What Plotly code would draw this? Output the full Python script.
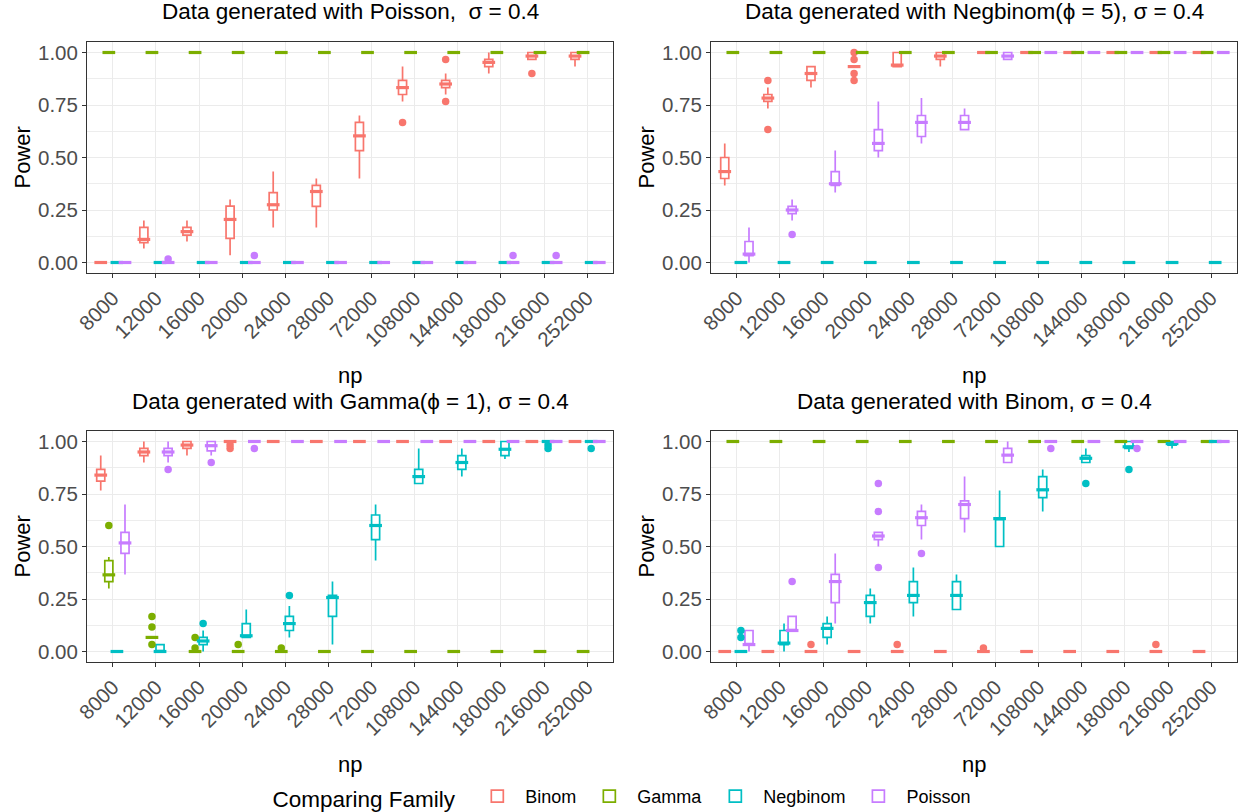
import plotly.graph_objects as go

# ---------------- data ----------------
CATS = ["8000", "12000", "16000", "20000", "24000", "28000",
        "72000", "108000", "144000", "180000", "216000", "252000"]
FAMILIES = ["Binom", "Gamma", "Negbinom", "Poisson"]
COLORS = ["#F8766D", "#7CAE00", "#00BFC4", "#C77CFF"]

# each box: (lower whisker, q1, median, q3, upper whisker)
Z = (0, 0, 0, 0, 0)
O = (1, 1, 1, 1, 1)

# Panel 1: data generated with Poisson
POIS_BINOM = [Z, (0.067, 0.095, 0.11, 0.167, 0.2), (0.1, 0.13, 0.147, 0.167, 0.2),
              (0.035, 0.115, 0.205, 0.268, 0.3), (0.167, 0.25, 0.275, 0.333, 0.433),
              (0.167, 0.267, 0.338, 0.367, 0.4), (0.4, 0.533, 0.603, 0.667, 0.7),
              (0.767, 0.8, 0.833, 0.867, 0.933), (0.8, 0.833, 0.85, 0.867, 0.9),
              (0.9, 0.933, 0.953, 0.967, 1.0), (0.967, 0.967, 0.983, 1.0, 1.0),
              (0.933, 0.967, 0.983, 1.0, 1.0)]
POIS_GAMMA = [O] * 12
POIS_NEGBINOM = [Z] * 12
POIS_POISSON = [Z] * 12
POIS_BINOM_OUT = [(7, 0.667), (8, 0.967), (8, 0.767), (10, 0.9)]
POIS_GAMMA_OUT = []
POIS_NEGBINOM_OUT = []
POIS_POISSON_OUT = [(1, 0.017), (3, 0.033), (9, 0.033), (10, 0.033)]

# Panel 2: data generated with Negbinom(phi = 5)
NB_BINOM = [(0.367, 0.4, 0.433, 0.5, 0.567), (0.733, 0.767, 0.783, 0.8, 0.833),
            (0.833, 0.867, 0.9, 0.933, 0.933), (0.933, 0.933, 0.933, 0.933, 0.933),
            (0.933, 0.933, 0.94, 1.0, 1.0), (0.933, 0.967, 0.983, 1.0, 1.0),
            O, O, O, O, O, O]
NB_GAMMA = [O] * 12
NB_NEGBINOM = [Z] * 12
NB_POISSON = [(0, 0.033, 0.04, 0.1, 0.167), (0.2, 0.233, 0.25, 0.267, 0.3),
              (0.333, 0.367, 0.375, 0.433, 0.533), (0.5, 0.533, 0.567, 0.633, 0.767),
              (0.567, 0.6, 0.667, 0.7, 0.783), (0.633, 0.633, 0.667, 0.7, 0.733),
              (0.967, 0.967, 0.983, 1.0, 1.0), O, O, O, O, O]
NB_BINOM_OUT = [(1, 0.867), (1, 0.633), (3, 1.0), (3, 0.967), (3, 0.9), (3, 0.867)]
NB_GAMMA_OUT = []
NB_NEGBINOM_OUT = []
NB_POISSON_OUT = [(1, 0.133)]

# Panel 3: data generated with Gamma(phi = 1)
GA_BINOM = [(0.767, 0.811, 0.84, 0.867, 0.933), (0.9, 0.933, 0.95, 0.967, 1.0),
            (0.933, 0.967, 0.983, 1.0, 1.0), O, O, O, O, O, O, O, O, O]
GA_GAMMA = [(0.3, 0.333, 0.365, 0.433, 0.45), (0.067, 0.067, 0.067, 0.067, 0.067),
            Z, Z, Z, Z, Z, Z, Z, Z, Z, Z]
GA_NEGBINOM = [Z, (0, 0, 0, 0.033, 0.033), (0, 0.033, 0.05, 0.067, 0.1),
               (0.067, 0.067, 0.075, 0.133, 0.2), (0.067, 0.1, 0.133, 0.167, 0.217),
               (0.033, 0.167, 0.257, 0.267, 0.333), (0.433, 0.533, 0.6, 0.65, 0.7),
               (0.8, 0.8, 0.833, 0.867, 0.967), (0.833, 0.867, 0.9, 0.933, 0.967),
               (0.917, 0.933, 0.963, 1.0, 1.0), O, O]
GA_POISSON = [(0.367, 0.467, 0.517, 0.567, 0.7), (0.9, 0.933, 0.95, 0.967, 1.0),
              (0.933, 0.955, 0.98, 1.0, 1.0), O, O, O, O, O, O, O, O, O]
GA_BINOM_OUT = [(3, 0.967), (3, 0.983)]
GA_GAMMA_OUT = [(0, 0.6), (1, 0.167), (1, 0.117), (1, 0.033), (2, 0.067), (2, 0.017),
                (3, 0.033), (4, 0.017)]
GA_NEGBINOM_OUT = [(2, 0.133), (4, 0.267), (10, 0.983), (10, 0.967), (11, 0.967)]
GA_POISSON_OUT = [(1, 0.867), (2, 0.9), (3, 0.967)]

# Panel 4: data generated with Binom
BI_BINOM = [Z] * 12
BI_GAMMA = [O] * 12
BI_NEGBINOM = [Z, (0, 0.033, 0.04, 0.1, 0.133), (0.033, 0.067, 0.11, 0.133, 0.167),
               (0.133, 0.167, 0.233, 0.267, 0.3), (0.167, 0.233, 0.267, 0.333, 0.4),
               (0.2, 0.2, 0.267, 0.333, 0.367), (0.5, 0.5, 0.633, 0.633, 0.767),
               (0.667, 0.733, 0.77, 0.833, 0.867), (0.9, 0.9, 0.92, 0.933, 0.967),
               (0.95, 0.967, 0.975, 1.0, 1.0), (0.967, 0.983, 0.99, 1.0, 1.0), O]
BI_POISSON = [(0, 0.033, 0.033, 0.1, 0.1), (0.1, 0.1, 0.1, 0.167, 0.167),
              (0.133, 0.233, 0.333, 0.367, 0.467), (0.5, 0.533, 0.55, 0.567, 0.567),
              (0.533, 0.6, 0.637, 0.667, 0.7), (0.567, 0.633, 0.7, 0.717, 0.833),
              (0.9, 0.9, 0.935, 0.967, 1.0), O, O, O, O, O]
BI_BINOM_OUT = [(2, 0.033), (4, 0.033), (6, 0.017), (10, 0.033)]
BI_GAMMA_OUT = []
BI_NEGBINOM_OUT = [(0, 0.1), (0, 0.067), (8, 0.8), (9, 0.867)]
BI_POISSON_OUT = [(1, 0.333), (3, 0.8), (3, 0.667), (3, 0.4), (4, 0.467),
                  (7, 0.967), (9, 0.967)]

TITLES = ["Data generated with Poisson,  \u03c3 = 0.4",
          "Data generated with Negbinom(\u03d5 = 5), \u03c3 = 0.4",
          "Data generated with Gamma(\u03d5 = 1), \u03c3 = 0.4",
          "Data generated with Binom, \u03c3 = 0.4"]
Y_TICKS = [0, 0.25, 0.5, 0.75, 1.0]
Y_TICKTEXT = ["0.00", "0.25", "0.50", "0.75", "1.00"]

PANELS = [
    ([POIS_BINOM, POIS_GAMMA, POIS_NEGBINOM, POIS_POISSON],
     [POIS_BINOM_OUT, POIS_GAMMA_OUT, POIS_NEGBINOM_OUT, POIS_POISSON_OUT]),
    ([NB_BINOM, NB_GAMMA, NB_NEGBINOM, NB_POISSON],
     [NB_BINOM_OUT, NB_GAMMA_OUT, NB_NEGBINOM_OUT, NB_POISSON_OUT]),
    ([GA_BINOM, GA_GAMMA, GA_NEGBINOM, GA_POISSON],
     [GA_BINOM_OUT, GA_GAMMA_OUT, GA_NEGBINOM_OUT, GA_POISSON_OUT]),
    ([BI_BINOM, BI_GAMMA, BI_NEGBINOM, BI_POISSON],
     [BI_BINOM_OUT, BI_GAMMA_OUT, BI_NEGBINOM_OUT, BI_POISSON_OUT]),
]

# ---------------- layout geometry ----------------
W, H = 1246, 812
FONT = "Liberation Sans, Arial, Helvetica, sans-serif"
PANEL_X = [(87, 613), (711, 1237), (87, 613), (711, 1237)]
PANEL_Y = [(42, 273), (42, 273), (431, 662), (431, 662)]
XRANGE = [-0.6, len(CATS) - 0.4]
DODGE = 0.75
NG = len(FAMILIES)
BOXW = DODGE / NG
OFFSETS = [-DODGE / 2 + BOXW * (g + 0.5) for g in range(NG)]
PX_PER_UNIT = (PANEL_X[0][1] - PANEL_X[0][0]) / (XRANGE[1] - XRANGE[0])
TICK_SIZE = 20.5

fig = go.Figure()
layout = dict(width=W, height=H, autosize=False,
              margin=dict(l=0, r=0, t=0, b=0, autoexpand=False),
              paper_bgcolor="white", plot_bgcolor="white",
              boxmode="overlay", font=dict(family=FONT, color="black"),
              showlegend=True)
annotations = []

for p, (stats_list, out_list) in enumerate(PANELS):
    ax = "" if p == 0 else str(p + 1)
    xref, yref = "x" + ax, "y" + ax
    for g, fam in enumerate(FAMILIES):
        stats = stats_list[g]
        xs = [i + OFFSETS[g] for i in range(len(CATS))]
        fig.add_trace(go.Box(
            x=xs,
            lowerfence=[s[0] for s in stats],
            q1=[s[1] for s in stats],
            median=[s[2] for s in stats],
            q3=[s[3] for s in stats],
            upperfence=[s[4] for s in stats],
            width=BOXW, whiskerwidth=0, boxpoints=False,
            fillcolor="white", line=dict(color=COLORS[g], width=1.7),
            name=fam, legendgroup=fam, showlegend=(p == 0),
            xaxis=xref, yaxis=yref, hoverinfo="skip"))
        # thicker median bar (ggplot's fatten = 2)
        fig.add_trace(go.Scatter(
            x=xs, y=[s[2] for s in stats], mode="markers",
            marker=dict(symbol="line-ew", size=BOXW * PX_PER_UNIT + 1,
                        line=dict(color=COLORS[g], width=3.2)),
            showlegend=False, legendgroup=fam, hoverinfo="skip",
            xaxis=xref, yaxis=yref))
        outs = out_list[g]
        if outs:
            fig.add_trace(go.Scatter(
                x=[o[0] + OFFSETS[g] for o in outs], y=[o[1] for o in outs],
                mode="markers", marker=dict(color=COLORS[g], size=7.5),
                showlegend=False, legendgroup=fam, hoverinfo="skip",
                xaxis=xref, yaxis=yref))

    x0, x1 = PANEL_X[p]
    y0, y1 = PANEL_Y[p]
    layout["xaxis" + ax] = dict(
        domain=[x0 / W, x1 / W], anchor=yref, range=XRANGE, automargin=False,
        tickmode="array", tickvals=list(range(len(CATS))), ticktext=CATS,
        tickangle=-45, ticks="outside", ticklen=4, tickwidth=1, tickcolor="#333333",
        tickfont=dict(size=TICK_SIZE, color="#4D4D4D", family=FONT),
        showline=True, mirror=True, linecolor="#333333", linewidth=1,
        showgrid=True, gridcolor="#EBEBEB", gridwidth=1.1, zeroline=False,
        fixedrange=True)
    layout["yaxis" + ax] = dict(
        domain=[1 - y1 / H, 1 - y0 / H], anchor=xref, range=[-0.05, 1.05],
        automargin=False,
        tickmode="array", tickvals=Y_TICKS, ticktext=Y_TICKTEXT,
        ticks="outside", ticklen=4, tickwidth=1, tickcolor="#333333",
        tickfont=dict(size=TICK_SIZE, color="#4D4D4D", family=FONT),
        showline=True, mirror=True, linecolor="#333333", linewidth=1,
        showgrid=True, gridcolor="#EBEBEB", gridwidth=1.1, zeroline=False,
        minor=dict(tickmode="array", tickvals=[0.125, 0.375, 0.625, 0.875],
                   showgrid=True, gridcolor="#EDEDED", gridwidth=0.8, ticks=""),
        fixedrange=True)

    cx = (x0 + x1) / 2 / W
    annotations.append(dict(text=TITLES[p], x=cx, y=1 - (y0 - 30) / H,
                            xref="paper", yref="paper", showarrow=False,
                            xanchor="center", yanchor="middle",
                            font=dict(size=22.5, color="black", family=FONT)))
    annotations.append(dict(text="np", x=cx, y=1 - (y1 + 102) / H,
                            xref="paper", yref="paper", showarrow=False,
                            xanchor="center", yanchor="middle",
                            font=dict(size=22, color="black", family=FONT)))
    annotations.append(dict(text="Power", x=(x0 - 65) / W, y=1 - (y0 + y1) / 2 / H,
                            xref="paper", yref="paper", showarrow=False,
                            textangle=-90, xanchor="center", yanchor="middle",
                            font=dict(size=22, color="black", family=FONT)))

layout["annotations"] = annotations
layout["legend"] = dict(orientation="h", x=0.5, xanchor="center",
                        y=1 - 798 / H, yanchor="middle",
                        title=dict(text="Comparing Family ", side="left",
                                   font=dict(size=22.5, family=FONT, color="black")),
                        font=dict(size=18, family=FONT, color="black"),
                        bgcolor="rgba(0,0,0,0)", itemwidth=46)
fig.update_layout(**layout)
fig.write_html("out.html")
